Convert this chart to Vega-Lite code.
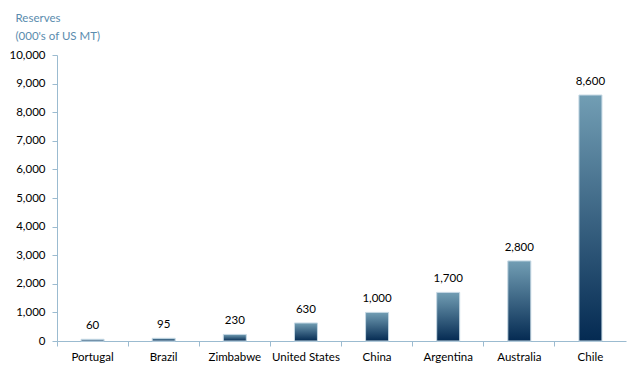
{
  "$schema": "https://vega.github.io/schema/vega-lite/v6.json",
  "autosize": {"type": "none"},
  "width": 569,
  "height": 286,
  "padding": {"left": 57, "top": 55, "right": 18, "bottom": 33},
  "background": "white",
  "config": {"view": {"stroke": null}, "font": "Lato"},
  "data": {"values": [
    {"country": "Portugal", "reserves": 60},
    {"country": "Brazil", "reserves": 95},
    {"country": "Zimbabwe", "reserves": 230},
    {"country": "United States", "reserves": 630},
    {"country": "China", "reserves": 1000},
    {"country": "Argentina", "reserves": 1700},
    {"country": "Australia", "reserves": 2800},
    {"country": "Chile", "reserves": 8600}
  ]},
  "encoding": {
    "x": {"field": "country", "type": "nominal", "sort": null,
      "scale": {"paddingInner": 0, "paddingOuter": 0},
      "axis": {"title": null, "labelAngle": 0, "labelFont": "Lato", "labelFontSize": 11.5, "labelColor": "#000000",
        "domainColor": "#9BBBD0", "tickColor": "#9BBBD0", "tickSize": 5, "bandPosition": 0, "labelPadding": 5, "grid": false}},
    "y": {"field": "reserves", "type": "quantitative",
      "scale": {"domain": [0, 10000], "nice": false},
      "axis": {"values": [0,1000,2000,3000,4000,5000,6000,7000,8000,9000,10000], "format": ",.0f", "grid": false,
        "labelFont": "Lato", "labelFontSize": 11.5, "labelColor": "#000000", "labelPadding": 7,
        "domainColor": "#9BBBD0", "tickColor": "#9BBBD0", "tickSize": 5,
        "title": ["Reserves", "(000's of US MT)"], "titleAngle": 0, "titleAlign": "left", "titleBaseline": "top",
        "titleX": -42, "titleY": -43, "titleFont": "Lato", "titleFontSize": 11.5, "titleFontWeight": "normal", "titleColor": "#5A8CAE", "titleLineHeight": 18}}
  },
  "layer": [
    {"mark": {"type": "bar", "width": 23, "stroke": "#C5D8E4", "strokeWidth": 1,
      "color": {"gradient": "linear", "x1": 0, "y1": 0, "x2": 0, "y2": 1,
        "stops": [{"offset": 0, "color": "#729EB4"}, {"offset": 1, "color": "#042A52"}]}}},
    {"mark": {"type": "text", "baseline": "middle", "dy": -13, "font": "Lato", "fontSize": 11.5, "color": "#000000"},
      "encoding": {"text": {"field": "reserves", "type": "quantitative", "format": ",.0f"}}}
  ]
}
